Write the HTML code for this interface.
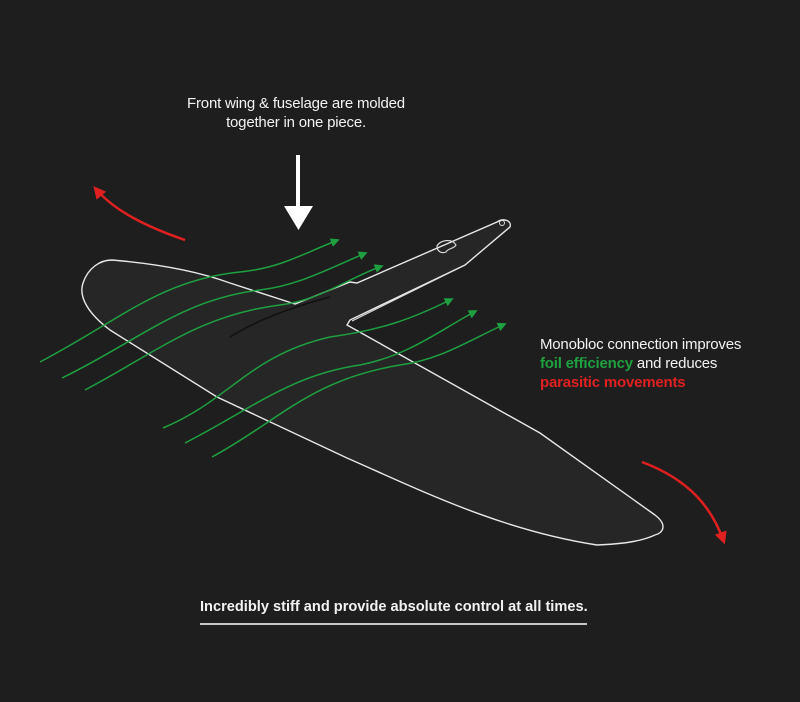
<!DOCTYPE html>
<html><head><meta charset="utf-8"><style>
html,body{margin:0;padding:0;background:#1e1e1e;}
body{width:800px;height:702px;overflow:hidden;position:relative;font-family:"Liberation Sans",sans-serif;}
.t{position:absolute;color:#f2f2f2;font-size:15px;letter-spacing:-0.2px;line-height:19px;}
</style></head><body>
<svg width="800" height="702" style="position:absolute;left:0;top:0">
<defs>
<marker id="g" viewBox="0 0 10 10" refX="8" refY="5" markerWidth="6" markerHeight="6" orient="auto"><path d="M0,0L10,5L0,10z" fill="#1fa040"/></marker>
<marker id="r" viewBox="0 0 10 10" refX="8" refY="5" markerWidth="5" markerHeight="5" orient="auto"><path d="M0,0L10,5L0,10z" fill="#e02020"/></marker>
</defs>
<path d="M112,260 C160,264 200,272 230,283 L295,304 L350,282 L357,283 L497,222 C503,218 512,220 510,227 L465,265 L350,320 L347,325 L540,433 L655,515 C668,525 663,533 655,535 C640,542 620,544 597,545 C500,530 420,490 347,458 L217,397 L110,330 C90,315 78,298 83,283 C88,268 100,260 112,260 Z" fill="#262626" stroke="#e8e8e8" stroke-width="1.4"/>
<path d="M352,321 L465,265" stroke="#ddd" stroke-width="1.2" fill="none"/>
<path d="M437,246 C440,240 452,238 456,245 C454,249 448,248 446,252 C441,254 437,251 437,246 Z" fill="none" stroke="#ddd" stroke-width="1.2"/>
<circle cx="502" cy="223" r="2.5" fill="none" stroke="#ddd" stroke-width="1"/>
<path d="M230,337 C260,318 300,305 330,297" stroke="#111" stroke-width="1.5" fill="none"/>
<g fill="none" stroke="#1fa040" stroke-width="1.5">
<path d="M40,362 C120,320 160,280 240,272 C280,268 300,255 338,240" marker-end="url(#g)"/>
<path d="M62,378 C140,340 180,300 260,290 C300,285 330,268 366,253" marker-end="url(#g)"/>
<path d="M85,390 C160,350 200,315 280,305 C320,300 345,280 382,266" marker-end="url(#g)"/>
<path d="M163,428 C230,400 250,355 330,337 C380,330 410,320 452,299" marker-end="url(#g)"/>
<path d="M185,443 C250,410 290,375 360,365 C410,355 440,330 476,311" marker-end="url(#g)"/>
<path d="M212,457 C280,420 310,380 400,365 C440,360 470,340 505,324" marker-end="url(#g)"/>
</g>
<path d="M185,240 C150,228 115,212 95,188" stroke="#e02020" stroke-width="2.5" fill="none" marker-end="url(#r)"/>
<path d="M642,462 C690,480 712,508 724,542" stroke="#e02020" stroke-width="2.5" fill="none" marker-end="url(#r)"/>
<rect x="296" y="155" width="4" height="52" fill="#fff"/>
<path d="M284,206 L313,206 L298.5,230 Z" fill="#fff"/>
<line x1="200" y1="624" x2="587" y2="624" stroke="#fff" stroke-width="1.5"/>
</svg>
<div class="t" style="left:146px;top:94px;width:300px;text-align:center;">Front wing &amp; fuselage are molded<br>together in one piece.</div>
<div class="t" style="left:540px;top:335px;">Monobloc connection improves<br><b style="color:#1fa040">foil efficiency</b> and reduces<br><b style="color:#e02020">parasitic movements</b></div>
<div class="t" style="left:200px;top:598px;font-weight:bold;font-size:14.6px;letter-spacing:0px;">Incredibly stiff and provide absolute control at all times.</div>
</body></html>
